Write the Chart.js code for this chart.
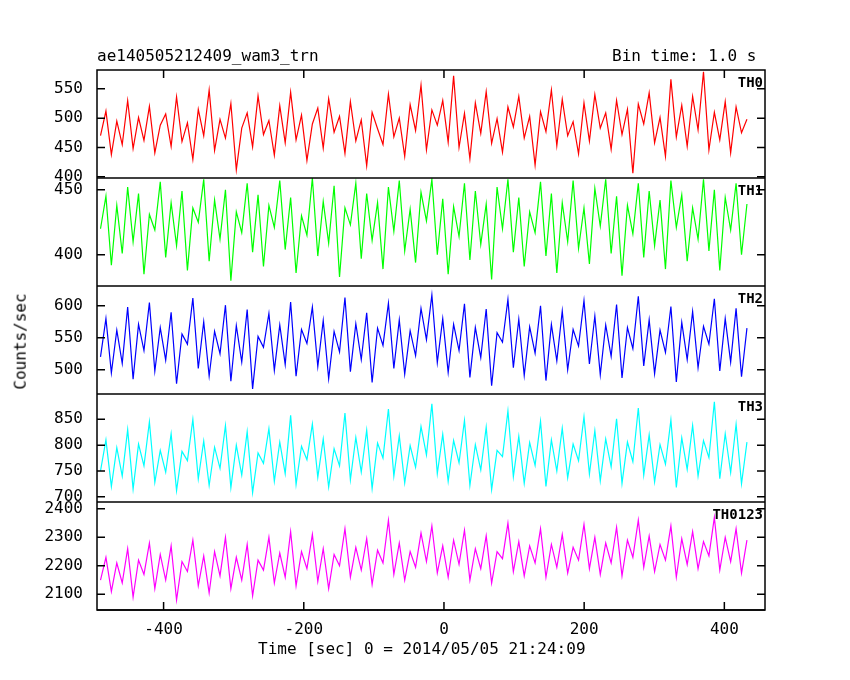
<!DOCTYPE html>
<html><head><meta charset="utf-8">
<script src="https://cdn.jsdelivr.net/npm/chart.js@4"></script>
<style>
body{margin:0;background:#fff;width:850px;height:680px;overflow:hidden;font-family:"DejaVu Sans Mono",monospace;}
.t{position:absolute;font-size:16px;color:#000;white-space:nowrap}
</style></head><body>
<canvas id="c" width="850" height="680" style="position:absolute;left:0;top:0"></canvas>
<div class="t" style="left:97px;top:46px">ae140505212409_wam3_trn</div>
<div class="t" style="left:612px;top:46px">Bin time: 1.0 s</div>
<div class="t" style="left:258px;top:639px">Time [sec] 0 = 2014/05/05 21:24:09</div>
<div class="t" style="left:-28px;top:332px;transform:rotate(-90deg)">Counts/sec</div>
<script>
const labelsTH = ["TH0","TH1","TH2","TH3","TH0123"];
const colors = ["#ff0000","#00ff00","#0000ff","#00ffff","#ff00ff"];
const xStart = -490, xStep = 7.75;
const th0 = [470,512,438,495,455,530,448,501,462,520,441,488,507,452,536,460,492,430,515,470,548,445,498,466,525,412,483,509,451,538,
472,496,437,521,458,544,463,505,428,490,517,449,533,476,503,440,528,461,497,419,510,482,455,541,468,500,435,523,479,556,
446,514,488,530,459,572,450,508,431,526,474,545,457,499,442,519,485,537,466,503,420,511,477,548,453,532,470,494,439,526,
461,540,483,509,447,530,472,515,406,524,490,543,458,501,435,566,468,522,452,537,480,579,446,510,463,528,441,519,475,498];
const th1 = [420,445,392,438,401,452,410,447,385,431,419,456,398,440,407,449,388,436,425,458,395,442,412,450,380,433,417,455,402,446,
391,438,421,457,404,444,386,430,415,459,399,441,409,453,383,436,423,455,397,447,411,440,389,452,418,457,403,435,394,448,
426,458,400,443,385,437,414,455,396,449,408,439,381,452,420,458,402,444,391,433,417,456,399,447,386,440,410,457,405,436,
393,451,422,458,401,445,384,438,416,455,398,449,407,442,389,457,421,446,395,436,412,458,403,450,388,444,419,455,400,439];
const th2 = [520,580,495,562,510,598,485,571,530,605,498,566,515,590,478,556,540,612,502,575,490,560,525,601,482,569,512,594,470,552,
535,588,499,570,508,606,490,563,541,598,505,577,486,560,528,613,497,572,516,589,480,565,538,604,502,578,493,561,522,596,
547,617,511,580,496,571,530,603,488,566,519,595,475,558,543,610,503,579,491,567,526,600,483,571,514,592,500,563,537,608,
509,584,492,570,521,602,487,566,533,615,506,578,494,562,527,599,481,574,516,591,503,568,540,611,498,580,512,596,489,565];
const th3 = [750,810,720,795,740,830,715,802,760,845,728,790,748,822,712,788,770,850,735,808,722,796,755,838,718,800,742,826,708,785,
765,832,730,806,745,858,724,798,772,841,738,812,719,793,760,862,733,815,748,829,716,804,775,870,740,818,727,799,757,836,
781,880,745,821,730,809,766,848,722,801,752,835,714,790,778,866,739,817,726,805,761,846,720,810,750,833,737,802,770,855,
744,828,731,812,758,851,726,806,768,872,742,820,729,801,763,849,718,814,753,838,740,809,776,884,735,822,747,840,725,806];
const th0123 = [2150,2230,2110,2210,2140,2260,2090,2220,2170,2280,2120,2240,2150,2270,2080,2215,2180,2290,2130,2235,2105,2250,2165,2300,2120,2230,2150,2275,2095,2220,
2185,2300,2140,2245,2160,2320,2130,2250,2190,2310,2145,2260,2120,2240,2200,2330,2160,2265,2185,2295,2135,2255,2210,2360,2170,2280,2150,2250,2195,2315,
2215,2340,2175,2270,2160,2290,2205,2325,2150,2260,2190,2305,2140,2250,2225,2350,2180,2285,2165,2270,2210,2330,2160,2275,2195,2310,2175,2265,2220,2345,
2190,2300,2170,2280,2210,2335,2165,2290,2230,2360,2195,2305,2180,2275,2220,2340,2160,2295,2205,2320,2190,2285,2235,2370,2185,2300,2215,2330,2175,2290];
const series = [th0,th1,th2,th3,th0123];
const yMin = [398,376,462,690,2045];
const yMax = [582,459,631,899,2424];
const ySteps = [50,50,50,50,100];
const xTicks = [-400,-200,0,200,400];

const font = {family:"DejaVu Sans Mono", size:16};
const scales = {
  x:{type:'linear',min:-495,max:458,grid:{display:false},border:{display:false},
     afterBuildTicks:s=>{s.ticks=xTicks.map(v=>({value:v}));},
     afterFit:s=>{s.height=70;},
     ticks:{color:'#000',font,maxRotation:0,padding:2,autoSkip:false,callback:v=>String(v)}}
};
for(let i=series.length-1;i>=0;i--){
  scales['y'+i]={type:'linear',position:'left',stack:'p',stackWeight:1,offset:false,
    min:yMin[i],max:yMax[i],grid:{display:false},border:{display:false},
    afterBuildTicks:s=>{const st=ySteps[i];const t=[];for(let v=Math.ceil(yMin[i]/st)*st;v<=yMax[i];v+=st)t.push({value:v});s.ticks=t;},
    afterFit:s=>{s.width=97;},
    ticks:{color:'#000',font,padding:6,autoSkip:false,callback:v=>String(v)}};
}
const datasets = series.map((d,i)=>({
  data:d.map((v,j)=>({x:xStart+j*xStep,y:v})),
  yAxisID:'y'+i,borderColor:colors[i],borderWidth:1.2,pointRadius:0,tension:0,fill:false
}));
const frame = {id:'frame',afterDraw(ch){
  const c=ch.ctx,a=ch.chartArea;
  c.save();c.strokeStyle='#000';c.lineWidth=1.5;
  c.strokeRect(a.left,a.top,a.right-a.left,a.bottom-a.top);
  series.forEach((d,i)=>{
    const s=ch.scales['y'+i];
    c.beginPath();c.moveTo(a.left,s.bottom);c.lineTo(a.right,s.bottom);c.stroke();
    s.ticks.forEach(t=>{const y=s.getPixelForValue(t.value);
      c.beginPath();c.moveTo(a.left,y);c.lineTo(a.left+8,y);c.moveTo(a.right,y);c.lineTo(a.right-8,y);c.stroke();});
    c.fillStyle='#000';c.font='bold 14px "DejaVu Sans Mono"';c.textAlign='right';c.textBaseline='top';
    c.fillText(labelsTH[i],a.right-2,s.top+6);
  });
  const x=ch.scales.x;
  xTicks.forEach(v=>{const px=x.getPixelForValue(v);
    c.beginPath();c.moveTo(px,a.bottom);c.lineTo(px,a.bottom-8);c.moveTo(px,a.top);c.lineTo(px,a.top+8);c.stroke();});
  c.restore();
}};
new Chart(document.getElementById('c'),{type:'line',data:{datasets},
  options:{responsive:false,animation:false,layout:{padding:{left:0,right:85,top:70,bottom:0}},
    plugins:{legend:{display:false},tooltip:{enabled:false}},scales},plugins:[frame]});
</script></body></html>
